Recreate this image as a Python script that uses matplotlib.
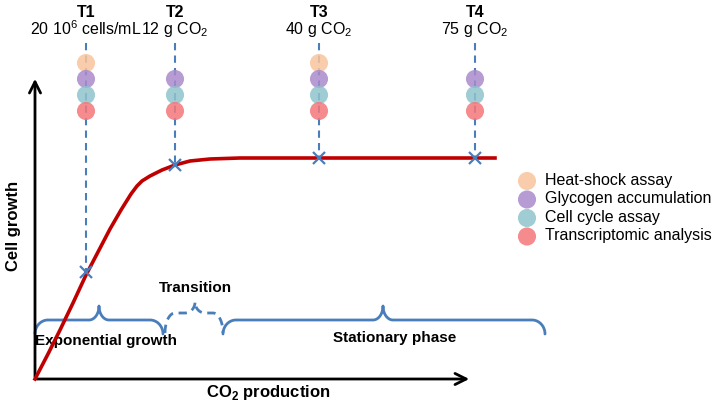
import numpy as np
import matplotlib
matplotlib.use("Agg")
import matplotlib.pyplot as plt

plt.rcParams['font.family'] = ['Liberation Sans', 'DejaVu Sans']
plt.rcParams['mathtext.fontset'] = 'custom'
plt.rcParams['mathtext.rm'] = 'Liberation Sans'
plt.rcParams['mathtext.bf'] = 'Liberation Sans:bold'

# growth curve (schematic, in picture units: x right, y down)
curve_x = [35, 48, 60, 73, 86, 98, 110, 121, 131, 137, 142, 150, 162, 175, 190, 210, 240, 280, 319, 400, 495]
curve_y = [379, 354, 330, 303, 275, 252, 229, 210, 194, 186, 181, 176, 170, 165, 161, 159, 158, 158, 158, 158, 158]

# sampling times
t_names = ['T1', 'T2', 'T3', 'T4']
t_labels = ['20 10$^{6}$ cells/mL', '12 g CO$_{2}$', '40 g CO$_{2}$', '75 g CO$_{2}$']
t_x = [86, 175, 319, 475]
t_y = [272, 165, 158, 158]

# assays done at each time (1 = done)
assays = ['Heat-shock assay', 'Glycogen accumulation', 'Cell cycle assay', 'Transcriptomic analysis']
assay_colors = ['#f9c59d', '#a98bcb', '#8fc3cd', '#f57779']
assay_done = [[1, 0, 1, 0],
              [1, 1, 1, 1],
              [1, 1, 1, 1],
              [1, 1, 1, 1]]
dot_y = [63, 79, 95, 111]

# phases: (start, end, tip, flat level, dashed)
phases = [(35, 163, 99, 320, False),
          (165, 223, 195, 313, True),
          (223, 545, 383, 320, False)]
phase_labels = ['Exponential growth', 'Transition', 'Stationary phase']
label_pos = [(106, 341), (195, 288), (395, 338)]

blue = '#4a7ebb'
red = '#c00000'

fig = plt.figure(figsize=(7.2, 4.12), dpi=100)
ax = fig.add_axes([0, 0, 1, 1])
ax.set_xlim(0, 720)
ax.set_ylim(412, 0)
ax.axis('off')


def brace(x0, x1, xm, y, r, drop, rt, tip, dashed):
    a = np.linspace(0, np.pi / 2, 25)
    lx = list(x0 + r * (1 - np.cos(a))) + list(xm - rt + rt * np.sin(a))
    ly = list(y + drop * (1 - np.sin(a))) + list(y - tip * (1 - np.cos(a)))
    rx = list(xm + rt - rt * np.sin(a[::-1])) + list(x1 - r * (1 - np.cos(a[::-1])))
    ry = list(y - tip * (1 - np.cos(a[::-1]))) + list(y + drop * (1 - np.sin(a[::-1])))
    ls = (0, (3, 2)) if dashed else '-'
    ax.plot(lx + rx, ly + ry, color=blue, lw=2, ls=ls,
            solid_capstyle='round', solid_joinstyle='round')


# axes arrows
ax.annotate('', xy=(472, 379), xytext=(34, 379),
            arrowprops=dict(arrowstyle='->', lw=2, color='black', mutation_scale=20))
ax.annotate('', xy=(35, 76), xytext=(35, 380),
            arrowprops=dict(arrowstyle='->', lw=2, color='black', mutation_scale=20))
ax.text(14, 226, 'Cell growth', rotation=90, ha='center', va='center',
        fontsize=12, fontweight='bold')
ax.text(268, 393, 'CO$_\\mathbf{2}$ production', ha='center', va='center',
        fontsize=12, fontweight='bold')

# sampling lines, dots and labels
for i in range(4):
    ax.plot([t_x[i], t_x[i]], [43, t_y[i]], color=blue, lw=1.5, ls=(0, (3.5, 2.5)), zorder=2)
    for j in range(4):
        if assay_done[j][i]:
            ax.scatter(t_x[i], dot_y[j], s=170, color=assay_colors[j], alpha=0.85,
                       edgecolors='none', zorder=3)
    ax.plot(t_x[i], t_y[i], marker='x', ms=9, mew=1.6, color=blue, zorder=5)
    ax.text(t_x[i], 12, t_names[i], ha='center', va='center', fontsize=11.5, fontweight='bold')
    ax.text(t_x[i], 29, t_labels[i], ha='center', va='center', fontsize=11.5)

# growth curve
ax.plot(curve_x, curve_y, color=red, lw=2.6, solid_joinstyle='round', zorder=4)

# phase braces
for (x0, x1, xm, yf, dashed), label, (lx, ly) in zip(phases, phase_labels, label_pos):
    if dashed:
        brace(x0, x1, xm, yf, 10, 20, 10, 11, True)
    else:
        brace(x0, x1, xm, yf, 13, 14, 10, 14, False)
    ax.text(lx, ly, label, ha='center', va='center', fontsize=11, fontweight='bold')

# legend
for j in range(4):
    yy = 181 + j * 18.5
    ax.scatter(527, yy, s=170, color=assay_colors[j], alpha=0.85, edgecolors='none')
    ax.text(545, yy - 1, assays[j], ha='left', va='center', fontsize=11.5)

fig.savefig('out.png', dpi=100)
